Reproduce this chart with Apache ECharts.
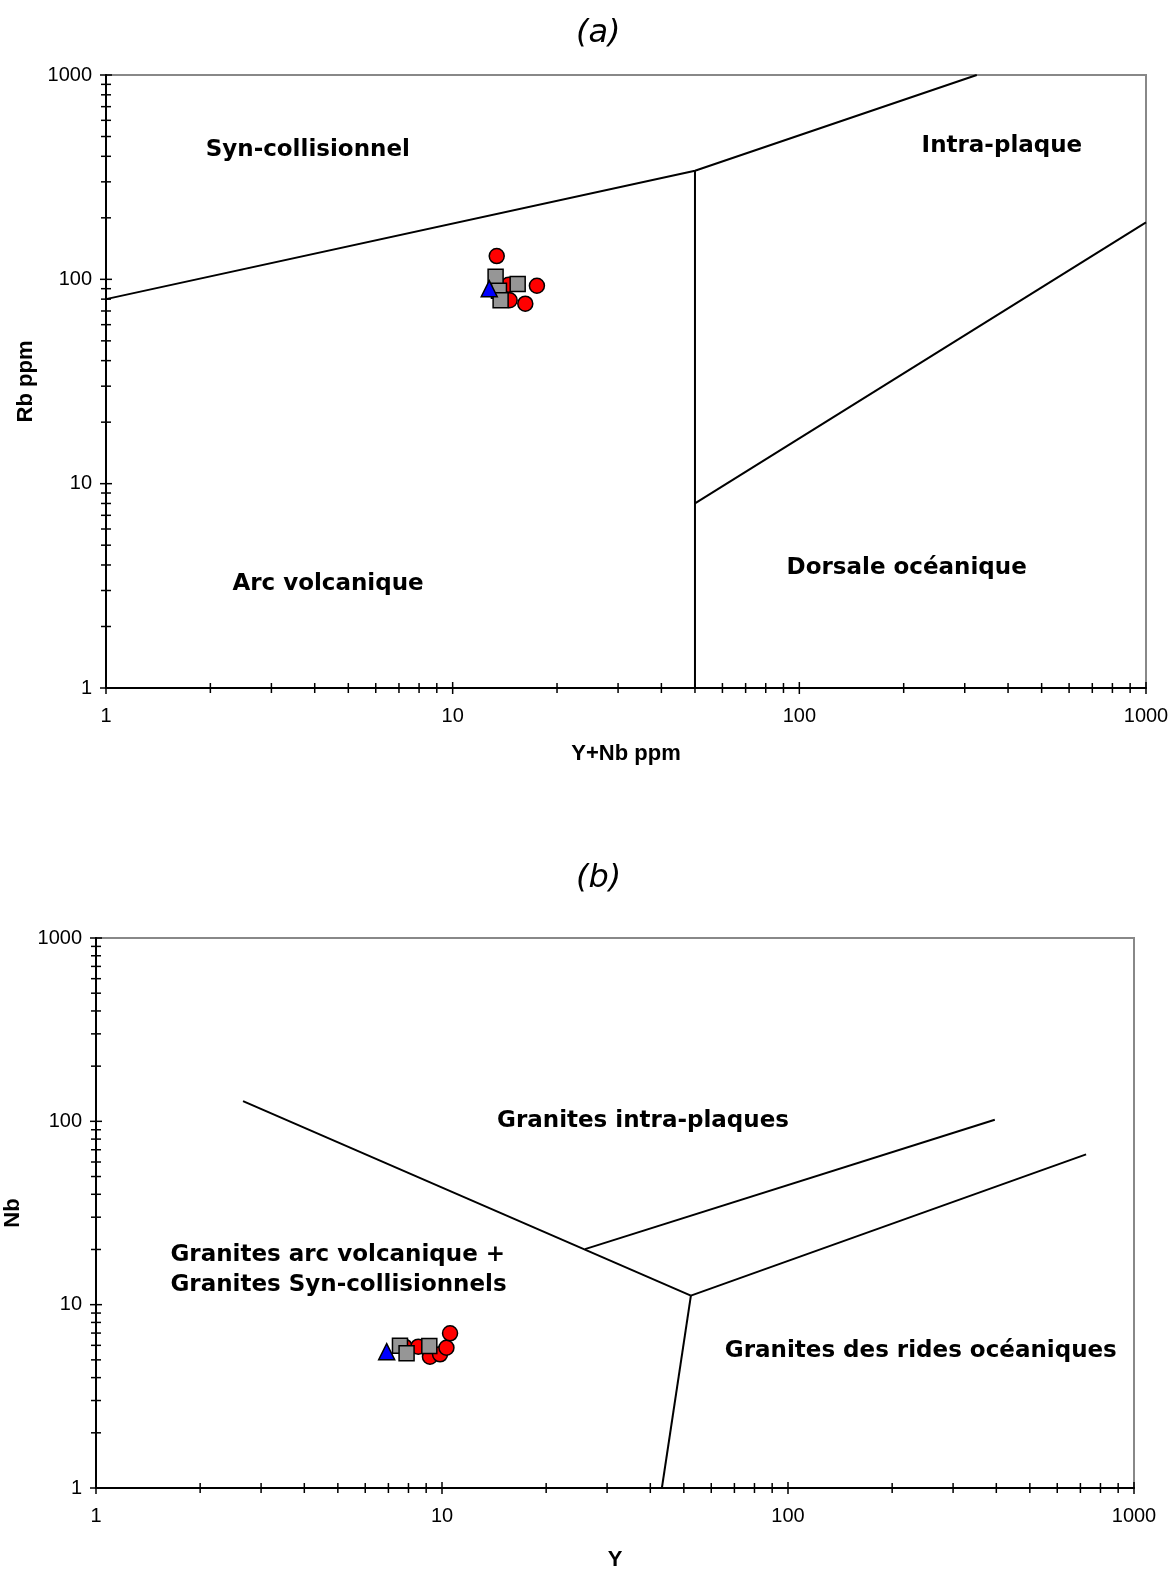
<!DOCTYPE html>
<html>
<head>
<meta charset="utf-8">
<script src="https://cdn.jsdelivr.net/npm/echarts@6/dist/echarts.min.js"></script>
<style>
html,body{margin:0;padding:0;background:#fff;}
#chart{width:1174px;height:1571px;}
</style>
</head>
<body>
<div id="chart"></div>
<script>
// ---- Data: chart (a) Rb vs Y+Nb ----
var aCircles = [[13.4,130],[14.5,94],[14.6,79],[17.5,93],[16.2,76]];
var aSquares = [[13.3,103],[13.6,88],[13.75,79],[15.4,95]];
var aTriangles = [[12.75,90]];
var aLine1 = [[1,80],[50,340],[325,1000]];
var aLine2 = [[50,1],[50,340]];
var aLine3 = [[50,8],[1000,190]];
var aLabels = [
  {name:'Syn-collisionnel', value:[3.82,450]},
  {name:'Intra-plaque', value:[384,471]},
  {name:'Arc volcanique', value:[4.37,3.38]},
  {name:'Dorsale océanique', value:[204,4.05]}
];
// ---- Data: chart (b) Nb vs Y ----
var bCircles = [[7.8,5.9],[8.54,5.9],[9.23,5.2],[9.87,5.36],[10.3,5.82],[10.55,6.98]];
var bSquares = [[7.56,5.97],[7.9,5.43],[9.19,5.95]];
var bTriangles = [[6.92,5.54]];
var bLine1 = [[2.66,129],[52.4,11.2]];
var bLine2 = [[25.9,20.1],[396,102]];
var bLine3 = [[52.4,11.2],[727,66]];
var bLine4 = [[52.4,11.2],[43.2,1]];
var bLabelsCenter = [
  {name:'Granites intra-plaques', value:[38.1,105.7]},
  {name:'Granites des rides océaniques', value:[242,5.88]}
];
var bLabelsLeft = [
  {name:'Granites arc volcanique +\nGranites Syn-collisionnels', value:[1.636,16.3]}
];
// ---- Tick values (log axes 1..1000) ----
var majorTicks = [1,10,100,1000];
var minorTicks = [2,3,4,5,6,7,8,9,20,30,40,50,60,70,80,90,200,300,400,500,600,700,800,900];

function tickSeries(gi, dir){
  var data = [];
  majorTicks.forEach(function(v){ data.push(dir==='y' ? [1,v,1] : [v,1,1]); });
  minorTicks.forEach(function(v){ data.push(dir==='y' ? [1,v,0] : [v,1,0]); });
  return {
    type:'custom', xAxisIndex:gi, yAxisIndex:gi, silent:true, clip:false, z:5,
    data:data,
    renderItem:function(params, api){
      var p = api.coord([api.value(0), api.value(1)]);
      var len = api.value(2) ? 6 : 5;
      var shape = dir==='y'
        ? {x1:p[0]-len, y1:p[1], x2:p[0]+len, y2:p[1]}
        : {x1:p[0], y1:p[1]-len, x2:p[0], y2:p[1]+len};
      return {type:'line', shape:shape, style:{stroke:'#000', lineWidth:1.5}};
    }
  };
}
function lineSeries(gi, data){
  return {type:'line', xAxisIndex:gi, yAxisIndex:gi, data:data, symbol:'none',
    lineStyle:{color:'#000', width:2}, silent:true, z:3, animation:false};
}
function scatterSeries(gi, data, symbol, color, size, z){
  return {type:'scatter', xAxisIndex:gi, yAxisIndex:gi, data:data, symbol:symbol,
    symbolSize:size, itemStyle:{color:color, borderColor:'#000', borderWidth:1.5, opacity:1}, z:z};
}
function labelSeries(gi, data, pos){
  return {type:'scatter', xAxisIndex:gi, yAxisIndex:gi, data:data, symbolSize:1,
    itemStyle:{color:'#fff', opacity:1}, silent:true, z:4,
    label:{show:true, position:pos, distance:0, lineHeight:30, offset:[0,4],
      fontFamily:'DejaVu Sans', fontWeight:'bold', fontSize:23, color:'#000',
      textBorderWidth:0, opacity:1,
      formatter:function(p){return p.name;}}};
}
function axis(name, gap, rotate){
  return {
    type:'log', logBase:10, min:1, max:1000,
    name:name, nameLocation:'middle', nameGap:gap, nameRotate:rotate,
    nameTextStyle:{fontFamily:'Arial, Liberation Sans, sans-serif', fontWeight:'bold', fontSize:22, color:'#000'},
    axisLine:{show:true, lineStyle:{color:'#000', width:2}},
    axisTick:{show:false}, splitLine:{show:false}, minorTick:{show:false},
    axisLabel:{fontFamily:'Liberation Sans', fontSize:20, color:'#000', margin:14,
      formatter:function(v){return String(Math.round(v));}}
  };
}
var xa0 = axis('Y+Nb ppm', 55, 0); xa0.axisLabel.margin = 18;
var xa1 = axis('Y', 61, 0); xa1.axisLabel.margin = 18;
var ya0 = axis('Rb ppm', 65, 90);
var ya1 = axis('Nb', 72, 90);

var titleStyle = {fontFamily:'DejaVu Sans', fontStyle:'italic', fontWeight:'normal', fontSize:32, color:'#000'};
var chart = echarts.init(document.getElementById('chart'), null, {renderer:'canvas'});
chart.setOption({
  animation:false,
  backgroundColor:'#fff',
  title:[
    {text:'(a)', left:571, top:13, textStyle:titleStyle},
    {text:'(b)', left:571, top:858, textStyle:titleStyle}
  ],
  grid:[
    {left:106, top:75, width:1040, height:613, show:true, borderColor:'#888', borderWidth:2, backgroundColor:'#fff', outerBoundsMode:'none', containLabel:false},
    {left:96, top:938, width:1038, height:550, show:true, borderColor:'#888', borderWidth:2, backgroundColor:'#fff', outerBoundsMode:'none', containLabel:false}
  ],
  xAxis:[Object.assign(xa0,{gridIndex:0}), Object.assign(xa1,{gridIndex:1})],
  yAxis:[Object.assign(ya0,{gridIndex:0}), Object.assign(ya1,{gridIndex:1})],
  series:[
    lineSeries(0, aLine1), lineSeries(0, aLine2), lineSeries(0, aLine3),
    lineSeries(1, bLine1), lineSeries(1, bLine2), lineSeries(1, bLine3), lineSeries(1, bLine4),
    tickSeries(0,'x'), tickSeries(0,'y'), tickSeries(1,'x'), tickSeries(1,'y'),
    labelSeries(0, aLabels, 'inside'),
    labelSeries(1, bLabelsCenter, 'inside'),
    labelSeries(1, bLabelsLeft, 'right'),
    scatterSeries(0, aCircles, 'circle', '#ff0000', 15, 10),
    scatterSeries(0, aSquares, 'rect', '#969696', 15, 11),
    scatterSeries(0, aTriangles, 'triangle', '#0000ff', 16, 12),
    scatterSeries(1, bCircles, 'circle', '#ff0000', 15, 10),
    scatterSeries(1, bSquares, 'rect', '#969696', 15, 11),
    scatterSeries(1, bTriangles, 'triangle', '#0000ff', 16, 12)
  ]
});
</script>
</body>
</html>
